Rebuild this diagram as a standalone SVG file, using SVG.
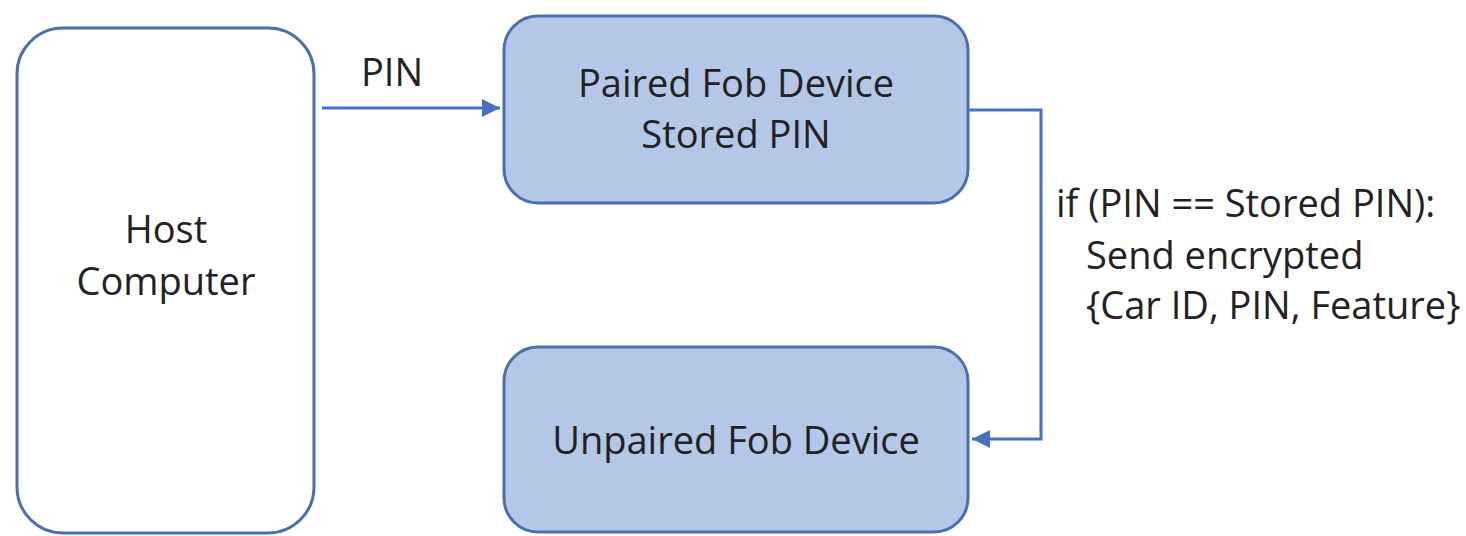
<svg xmlns="http://www.w3.org/2000/svg" width="1466" height="536" viewBox="0 0 1466 536">
<style>
.t{font-family:"Open Sans","Noto Sans",sans-serif;font-size:38px;fill:#222222}
.c{text-anchor:middle}
.fob{fill:#b4c7e7;stroke:#4a6fae;stroke-width:3}
.conn{fill:none;stroke:#4472c4;stroke-width:3}
</style>
<defs>
<marker id="arr" viewBox="0 0 10 10" refX="10" refY="5" markerWidth="18" markerHeight="18" orient="auto" markerUnits="userSpaceOnUse">
<path d="M0,0 L10,5 L0,10 z" fill="#4472c4"/>
</marker>
</defs>
<rect width="1466" height="536" fill="#ffffff"/>
<g id="host">
<rect x="17" y="28" width="297" height="505" rx="46" fill="#ffffff" stroke="#4a6fae" stroke-width="3"/>
<text class="t c" x="166" y="243">Host</text>
<text class="t c" x="166" y="295">Computer</text>
</g>
<g id="paired">
<rect class="fob" x="504" y="16" width="464" height="187" rx="34"/>
<text class="t c" x="736" y="97">Paired Fob Device</text>
<text class="t c" x="736" y="148">Stored PIN</text>
</g>
<g id="unpaired">
<rect class="fob" x="504" y="347" width="464" height="185" rx="34"/>
<text class="t c" x="736" y="454">Unpaired Fob Device</text>
</g>
<g id="connectors">
<path class="conn" d="M322,108 L500,108" marker-end="url(#arr)"/>
<text class="t" x="361" y="86">PIN</text>
<path class="conn" d="M968,110 L1041,110 L1041,439 L972,439" marker-end="url(#arr)"/>
<text class="t" x="1056" y="217">if (PIN == Stored PIN):</text>
<text class="t" x="1086" y="269">Send encrypted</text>
<text class="t" x="1086" y="319">{Car ID, PIN, Feature}</text>
</g>
</svg>
